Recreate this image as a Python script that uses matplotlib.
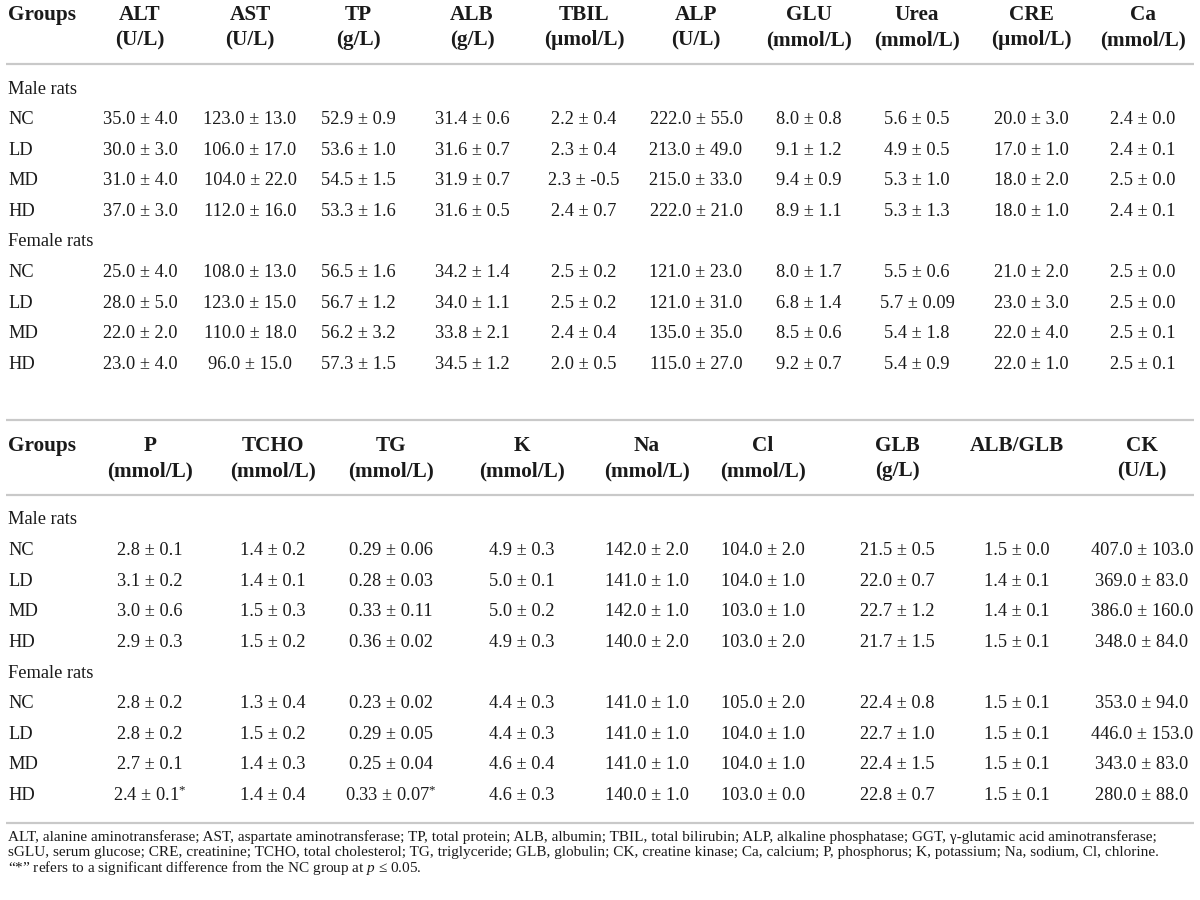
import matplotlib
matplotlib.use("Agg")
import matplotlib.pyplot as plt

plt.rcParams['font.family'] = ['Liberation Serif', 'DejaVu Serif']
plt.rcParams['mathtext.fontset'] = 'custom'
plt.rcParams['mathtext.rm'] = 'Liberation Serif'
plt.rcParams['mathtext.it'] = 'Liberation Serif:italic'
plt.rcParams['mathtext.bf'] = 'Liberation Serif:bold'

# ---------------- data ----------------
sections = ["Male rats", "Female rats"]
groups = ["NC", "LD", "MD", "HD"]

# Table 1
t1_names = ["ALT", "AST", "TP", "ALB", "TBIL", "ALP", "GLU", "Urea", "CRE", "Ca"]
t1_units = ["(U/L)", "(U/L)", "(g/L)", "(g/L)", "(µmol/L)", "(U/L)", "(mmol/L)",
            "(mmol/L)", "(µmol/L)", "(mmol/L)"]
ALT = ["35.0 ± 4.0", "30.0 ± 3.0", "31.0 ± 4.0", "37.0 ± 3.0",
       "25.0 ± 4.0", "28.0 ± 5.0", "22.0 ± 2.0", "23.0 ± 4.0"]
AST = ["123.0 ± 13.0", "106.0 ± 17.0", "104.0 ± 22.0", "112.0 ± 16.0",
       "108.0 ± 13.0", "123.0 ± 15.0", "110.0 ± 18.0", "96.0 ± 15.0"]
TP = ["52.9 ± 0.9", "53.6 ± 1.0", "54.5 ± 1.5", "53.3 ± 1.6",
      "56.5 ± 1.6", "56.7 ± 1.2", "56.2 ± 3.2", "57.3 ± 1.5"]
ALB = ["31.4 ± 0.6", "31.6 ± 0.7", "31.9 ± 0.7", "31.6 ± 0.5",
       "34.2 ± 1.4", "34.0 ± 1.1", "33.8 ± 2.1", "34.5 ± 1.2"]
TBIL = ["2.2 ± 0.4", "2.3 ± 0.4", "2.3 ± -0.5", "2.4 ± 0.7",
        "2.5 ± 0.2", "2.5 ± 0.2", "2.4 ± 0.4", "2.0 ± 0.5"]
ALP = ["222.0 ± 55.0", "213.0 ± 49.0", "215.0 ± 33.0", "222.0 ± 21.0",
       "121.0 ± 23.0", "121.0 ± 31.0", "135.0 ± 35.0", "115.0 ± 27.0"]
GLU = ["8.0 ± 0.8", "9.1 ± 1.2", "9.4 ± 0.9", "8.9 ± 1.1",
       "8.0 ± 1.7", "6.8 ± 1.4", "8.5 ± 0.6", "9.2 ± 0.7"]
Urea = ["5.6 ± 0.5", "4.9 ± 0.5", "5.3 ± 1.0", "5.3 ± 1.3",
        "5.5 ± 0.6", "5.7 ± 0.09", "5.4 ± 1.8", "5.4 ± 0.9"]
CRE = ["20.0 ± 3.0", "17.0 ± 1.0", "18.0 ± 2.0", "18.0 ± 1.0",
       "21.0 ± 2.0", "23.0 ± 3.0", "22.0 ± 4.0", "22.0 ± 1.0"]
Ca = ["2.4 ± 0.0", "2.4 ± 0.1", "2.5 ± 0.0", "2.4 ± 0.1",
      "2.5 ± 0.0", "2.5 ± 0.0", "2.5 ± 0.1", "2.5 ± 0.1"]
t1_values = [ALT, AST, TP, ALB, TBIL, ALP, GLU, Urea, CRE, Ca]

# Table 2
t2_names = ["P", "TCHO", "TG", "K", "Na", "Cl", "GLB", "ALB/GLB", "CK"]
t2_units = ["(mmol/L)", "(mmol/L)", "(mmol/L)", "(mmol/L)", "(mmol/L)",
            "(mmol/L)", "(g/L)", "", "(U/L)"]
P = ["2.8 ± 0.1", "3.1 ± 0.2", "3.0 ± 0.6", "2.9 ± 0.3",
     "2.8 ± 0.2", "2.8 ± 0.2", "2.7 ± 0.1", "2.4 ± 0.1*"]
TCHO = ["1.4 ± 0.2", "1.4 ± 0.1", "1.5 ± 0.3", "1.5 ± 0.2",
        "1.3 ± 0.4", "1.5 ± 0.2", "1.4 ± 0.3", "1.4 ± 0.4"]
TG = ["0.29 ± 0.06", "0.28 ± 0.03", "0.33 ± 0.11", "0.36 ± 0.02",
      "0.23 ± 0.02", "0.29 ± 0.05", "0.25 ± 0.04", "0.33 ± 0.07*"]
K = ["4.9 ± 0.3", "5.0 ± 0.1", "5.0 ± 0.2", "4.9 ± 0.3",
     "4.4 ± 0.3", "4.4 ± 0.3", "4.6 ± 0.4", "4.6 ± 0.3"]
Na = ["142.0 ± 2.0", "141.0 ± 1.0", "142.0 ± 1.0", "140.0 ± 2.0",
      "141.0 ± 1.0", "141.0 ± 1.0", "141.0 ± 1.0", "140.0 ± 1.0"]
Cl = ["104.0 ± 2.0", "104.0 ± 1.0", "103.0 ± 1.0", "103.0 ± 2.0",
      "105.0 ± 2.0", "104.0 ± 1.0", "104.0 ± 1.0", "103.0 ± 0.0"]
GLB = ["21.5 ± 0.5", "22.0 ± 0.7", "22.7 ± 1.2", "21.7 ± 1.5",
       "22.4 ± 0.8", "22.7 ± 1.0", "22.4 ± 1.5", "22.8 ± 0.7"]
ALB_GLB = ["1.5 ± 0.0", "1.4 ± 0.1", "1.4 ± 0.1", "1.5 ± 0.1",
           "1.5 ± 0.1", "1.5 ± 0.1", "1.5 ± 0.1", "1.5 ± 0.1"]
CK = ["407.0 ± 103.0", "369.0 ± 83.0", "386.0 ± 160.0", "348.0 ± 84.0",
      "353.0 ± 94.0", "446.0 ± 153.0", "343.0 ± 83.0", "280.0 ± 88.0"]
t2_values = [P, TCHO, TG, K, Na, Cl, GLB, ALB_GLB, CK]

footnote_lines = [
    "ALT, alanine aminotransferase; AST, aspartate aminotransferase; TP, total protein; ALB, albumin; "
    "TBIL, total bilirubin; ALP, alkaline phosphatase; GGT, γ-glutamic acid aminotransferase;",
    "sGLU, serum glucose; CRE, creatinine; TCHO, total cholesterol; TG, triglyceride; GLB, globulin; "
    "CK, creatine kinase; Ca, calcium; P, phosphorus; K, potassium; Na, sodium, Cl, chlorine.",
    "“*” refers to a significant difference from the NC group at $p$ ≤ 0.05.",
]

# ---------------- layout ----------------
W, H = 1200, 900
fig = plt.figure(figsize=(12, 9), dpi=100)
ax = fig.add_axes([0, 0, 1, 1])
ax.set_xlim(0, W)
ax.set_ylim(H, 0)
ax.axis('off')

LINE_C = '#c9c9c9'
TXT_C = '#1a1a1a'
FS_VAL = 13.2
FS_HEAD = 15.3
X_LEFT = 8
ROW_STEP = 30.6


def hline(y):
    ax.plot([6, 1194], [y, y], color=LINE_C, lw=1.6, solid_capstyle='butt')


def fmt(s):
    if s.endswith('*'):
        return s[:-1] + r'$^{*}$'
    return s


def draw_table(names, units, values, xcenters, y_h1, y_h2, y_sep, y_first):
    ax.text(X_LEFT, y_h1, "Groups", fontsize=FS_HEAD, fontweight='bold',
            ha='left', va='center', color=TXT_C)
    for n, u, x in zip(names, units, xcenters):
        ax.text(x, y_h1, n, fontsize=FS_HEAD, fontweight='bold',
                ha='center', va='center', color=TXT_C)
        if u:
            ax.text(x, y_h2, u, fontsize=FS_HEAD, fontweight='bold',
                    ha='center', va='center', color=TXT_C)
    hline(y_sep)
    r = 0
    for si, sec in enumerate(sections):
        y = y_first + r * ROW_STEP
        ax.text(X_LEFT, y, sec, fontsize=FS_VAL, ha='left', va='center', color=TXT_C)
        r += 1
        for gi, g in enumerate(groups):
            y = y_first + r * ROW_STEP
            ax.text(X_LEFT, y, g, fontsize=FS_VAL, ha='left', va='center', color=TXT_C)
            for col, x in zip(values, xcenters):
                ax.text(x, y, fmt(col[si * 4 + gi]), fontsize=FS_VAL,
                        ha='center', va='center', color=TXT_C)
            r += 1


t1_x = [140, 250, 358, 472, 584, 696, 809, 917, 1031, 1143]
t2_x = [150, 273, 391, 522, 647, 763, 897, 1017, 1142]

draw_table(t1_names, t1_units, t1_values, t1_x, 15, 40, 64, 89)
hline(420)
draw_table(t2_names, t2_units, t2_values, t2_x, 446, 471, 495, 520)
hline(823)

for i, line in enumerate(footnote_lines):
    ax.text(X_LEFT, 837 + i * 15.5, line, fontsize=11.0, ha='left', va='center',
            color=TXT_C)

fig.savefig("out.png", dpi=100)
